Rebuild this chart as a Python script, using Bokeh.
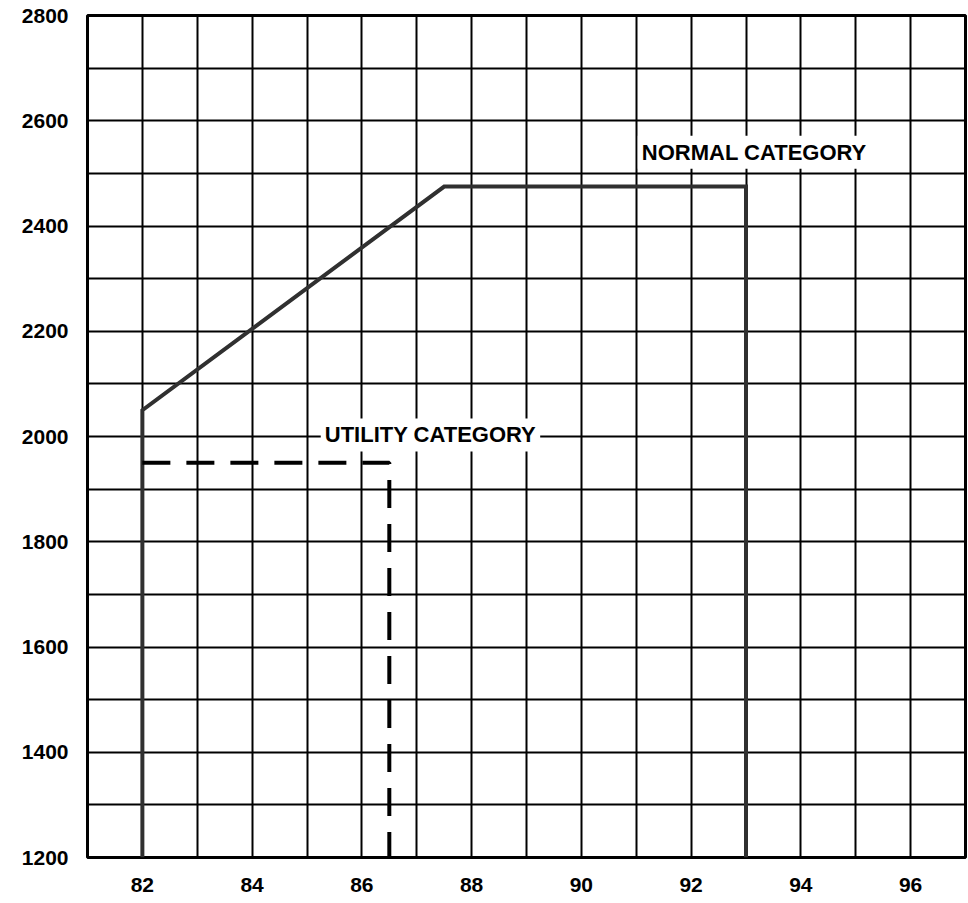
from bokeh.plotting import figure
from bokeh.models import FixedTicker, Label, Range1d
from bokeh.embed import file_html
from bokeh.resources import INLINE

# ---- data ----
x_tick_values = [82, 84, 86, 88, 90, 92, 94, 96]
y_tick_values = [1200, 1400, 1600, 1800, 2000, 2200, 2400, 2600, 2800]
x_grid_values = list(range(81, 98))
y_grid_values = list(range(1200, 2801, 100))

normal_x = [82, 82, 87.5, 93, 93]
normal_y = [1200, 2050, 2475, 2475, 1200]

utility_x = [82, 86.5, 86.5]
utility_y = [1950, 1950, 1200]

label_texts = ["NORMAL CATEGORY", "UTILITY CATEGORY"]
label_xs = [93.15, 87.25]
label_ys = [2540, 2003]

FONT = "Liberation Sans"

p = figure(width=968, height=903, output_backend="svg", toolbar_location=None,
           x_range=Range1d(81, 97), y_range=Range1d(1200, 2800),
           min_border_left=87, min_border_right=3, min_border_top=15, min_border_bottom=46)

p.background_fill_color = "white"
p.border_fill_color = "white"
p.outline_line_color = "black"
p.outline_line_width = 3

for ax, ticks in ((p.xaxis, x_tick_values), (p.yaxis, y_tick_values)):
    ax.ticker = FixedTicker(ticks=ticks)
    ax.axis_line_color = None
    ax.major_tick_line_color = None
    ax.minor_tick_line_color = None
    ax.major_tick_out = 0
    ax.major_tick_in = 0
    ax.major_label_text_font = FONT
    ax.major_label_text_font_style = "bold"
    ax.major_label_text_font_size = "21px"
    ax.major_label_text_color = "black"
p.xaxis.major_label_standoff = 20
p.yaxis.major_label_standoff = 19

p.xgrid.ticker = FixedTicker(ticks=x_grid_values)
p.ygrid.ticker = FixedTicker(ticks=y_grid_values)
for g in (p.xgrid, p.ygrid):
    g.grid_line_color = "black"
    g.grid_line_width = 2
    g.grid_line_alpha = 1.0

p.line(normal_x, normal_y, line_color="#303030", line_width=4, line_join="miter")
p.line(utility_x, utility_y, line_color="black", line_width=4, line_dash="28 16")

for t, lx, ly in zip(label_texts, label_xs, label_ys):
    p.add_layout(Label(x=lx, y=ly, text=t, text_align="center", text_baseline="middle",
                       text_font=FONT, text_font_style="bold", text_font_size="22px",
                       text_color="black", background_fill_color="white",
                       background_fill_alpha=1.0, padding=4))

open("out.html", "w").write(file_html(p, INLINE))
